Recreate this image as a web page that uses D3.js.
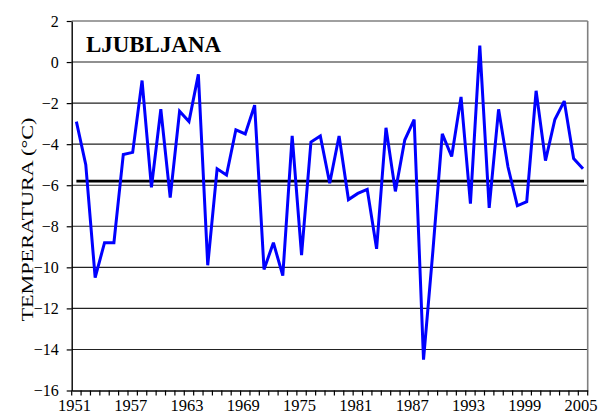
<!DOCTYPE html>
<html>
<head>
<meta charset="utf-8">
<script src="https://cdn.jsdelivr.net/npm/d3@7"></script>
<style>
  body { margin: 0; background: #fff; }
  svg { display: block; }
</style>
</head>
<body>
<div id="chart"></div>
<script>

// mean temperature, Ljubljana 1951-2005
var years = d3.range(1951, 2006);
var temps = [
	-2.9, -5.0, -10.5, -8.8, -8.8, -4.5, -4.4, -0.9, -6.1, -2.3,
	-6.6, -2.4, -2.9, -0.6, -9.9, -5.2, -5.5, -3.3, -3.5, -2.1,
	-10.1, -8.8, -10.4, -3.6, -9.4, -3.9, -3.6, -5.9, -3.6, -6.7,
	-6.4, -6.2, -9.1, -3.2, -6.3, -3.8, -2.8, -14.5, -9.2, -3.5,
	-4.6, -1.7, -6.9, 0.8, -7.1, -2.3, -5.1, -7.0, -6.8, -1.4,
	-4.8, -2.8, -1.9, -4.7, -5.2
];
var meanTemp = [-5.8];
var yTicks = [-16, -14, -12, -10, -8, -6, -4, -2, 0, 2];
var xTickLabels = [1951, 1957, 1963, 1969, 1975, 1981, 1987, 1993, 1999, 2005];

var wd = 598, ht = 415;
var plotL = 71.7, plotR = 587.7, plotT = 21, plotB = 390.5;
var serif = '"Liberation Serif", "Times New Roman", serif';

var svg = d3.select('#chart')
	.append("svg")
	.attr("width", wd)
	.attr("height", ht);

var x = d3.scaleBand()
	.domain(years)
	.range([plotL, plotR])
	.padding(0);

var y = d3.scaleLinear()
	.domain([-16, 2])
	.range([plotB, plotT]);

function cx(d) { return x(d) + x.bandwidth() / 2; }

// gridlines
svg.append("g")
	.selectAll("line")
	.data(yTicks.filter(function (d) { return d > -16; }))
	.enter()
	.append("line")
	.attr("x1", plotL)
	.attr("x2", plotR)
	.attr("y1", function (d) { return y(d); })
	.attr("y2", function (d) { return y(d); })
	.attr("stroke", function (d) { return d === 2 ? "#808080" : "#222"; })
	.attr("stroke-width", function (d) { return d === 2 ? 1.6 : 1.1; });

// right border
svg.append("line")
	.attr("x1", plotR).attr("x2", plotR)
	.attr("y1", plotT).attr("y2", plotB)
	.attr("stroke", "#808080")
	.attr("stroke-width", 1.6);

// y axis
var yAxis = svg.append("g")
	.attr("transform", "translate(" + plotL + ",0)")
	.call(d3.axisLeft(y).tickValues(yTicks).tickSize(5).tickPadding(8).tickSizeOuter(0))
	.attr("font-family", serif)
	.attr("font-size", 16);
yAxis.select(".domain").attr("stroke", "#000").attr("stroke-width", 1.4);
yAxis.selectAll(".tick line").attr("stroke", "#000").attr("stroke-width", 1.2);
yAxis.selectAll(".tick text")
	.attr("fill", "#000")
	.attr("dy", "0.33em");

// x axis: labels every 6 years, ticks between categories
var xAxis = svg.append("g")
	.attr("transform", "translate(0," + plotB + ")")
	.call(d3.axisBottom(x)
		.tickValues(xTickLabels)
		.tickSize(0)
		.tickPadding(9)
		.tickSizeOuter(0))
	.attr("font-family", serif)
	.attr("font-size", 16.5);
xAxis.select(".domain").attr("stroke", "#000").attr("stroke-width", 1.4);
xAxis.selectAll(".tick text")
	.attr("fill", "#000")
	.attr("x", -2);

svg.append("g")
	.selectAll("line")
	.data(years.concat([2006]))
	.enter()
	.append("line")
	.attr("x1", function (d) { return d === 2006 ? plotR : x(d); })
	.attr("x2", function (d) { return d === 2006 ? plotR : x(d); })
	.attr("y1", plotB)
	.attr("y2", plotB + 5)
	.attr("stroke", "#000")
	.attr("stroke-width", 1.2);

// mean line
svg.append("g")
	.selectAll("line")
	.data(meanTemp)
	.enter()
	.append("line")
	.attr("x1", cx(years[0]))
	.attr("x2", cx(years[years.length - 1]) + 1)
	.attr("y1", function (d) { return y(d); })
	.attr("y2", function (d) { return y(d); })
	.attr("stroke", "#000")
	.attr("stroke-width", 2.6);

// temperature series
var line = d3.line()
	.x(function (d, i) { return cx(years[i]); })
	.y(function (d) { return y(d); });

svg.append("path")
	.datum(temps)
	.attr("d", line)
	.attr("fill", "none")
	.attr("stroke", "#0000ff")
	.attr("stroke-width", 3)
	.attr("stroke-linejoin", "miter")
	.attr("stroke-miterlimit", 3);

// titles
svg.append("text")
	.attr("x", 86)
	.attr("y", 51.5)
	.attr("textLength", 135)
	.attr("lengthAdjust", "spacingAndGlyphs")
	.attr("font-family", serif)
	.attr("font-size", 24)
	.attr("font-weight", "bold")
	.text("LJUBLJANA");

svg.append("text")
	.attr("transform", "translate(33,219.5) rotate(-90)")
	.attr("text-anchor", "middle")
	.attr("textLength", 204)
	.attr("lengthAdjust", "spacingAndGlyphs")
	.attr("font-family", serif)
	.attr("font-size", 17)
	.text("TEMPERATURA (°C)");

</script>
</body>
</html>
